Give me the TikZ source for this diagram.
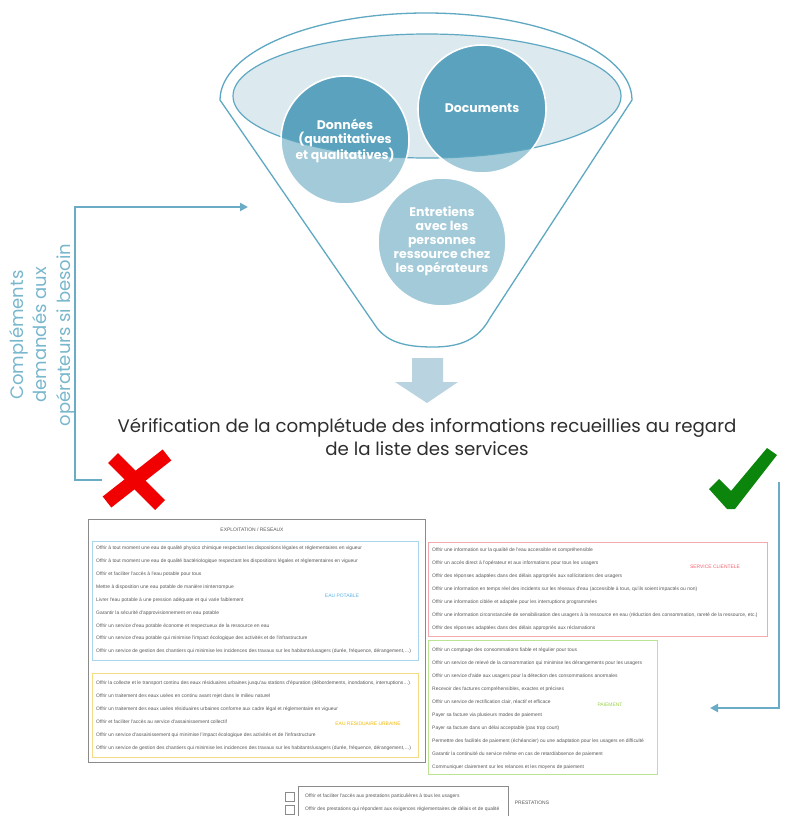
\documentclass[tikz,border=0pt]{standalone}
\usepackage{fontspec}
\setmainfont{Poppins}
\newfontfamily\listfont{Liberation Sans}
\usetikzlibrary{arrows.meta,calc}

\definecolor{funnelline}{HTML}{5FA8C2}
\definecolor{ellfill}{HTML}{DCE9EF}
\definecolor{circlight}{HTML}{A2CAD8}
\definecolor{circdark}{HTML}{5AA2BE}
\definecolor{arrowblue}{HTML}{B9D3E0}
\definecolor{loopblue}{HTML}{6AABC5}
\definecolor{sidetext}{HTML}{79B7CD}
\definecolor{crossred}{HTML}{F00000}
\definecolor{checkgreen}{HTML}{0B850B}
\definecolor{titlegray}{HTML}{2E2E2E}
\definecolor{rowgray}{HTML}{555555}
\definecolor{framegray}{HTML}{8A8A8A}
\definecolor{potable}{HTML}{A9D6EE}
\definecolor{potablelbl}{HTML}{5BB2E2}
\definecolor{residu}{HTML}{F6DA85}
\definecolor{residulbl}{HTML}{F2B800}
\definecolor{client}{HTML}{F4A9AE}
\definecolor{clientlbl}{HTML}{F0606E}
\definecolor{paie}{HTML}{BCE293}
\definecolor{paielbl}{HTML}{9ACF4C}

\newcommand\rowfont{\listfont\fontsize{4.95pt}{5.8pt}\selectfont}

\begin{document}
\begin{tikzpicture}[x=1pt,y=-1pt,
  rowtext/.style={anchor=west,inner sep=0pt,font=\rowfont,text=rowgray},
  grouplabel/.style={inner sep=0pt,font=\rowfont},
  listframe/.style={line width=0.8pt},
  loopline/.style={draw=loopblue,line width=2.6pt},
  bubble/.style={circle,draw=white,line width=1.6pt,inner sep=0pt},
  bubbletext/.style={align=center,text=white,font=\bfseries\fontsize{12.5pt}{14pt}\selectfont}]

\useasboundingbox (0,0) rectangle (789,816);

% ---------- funnel ----------
\draw[funnelline,line width=1.3pt,fill=white]
  (220,100) arc[start angle=180,end angle=360,x radius=206,y radius=87]
  -- (490,318) .. controls (478,340) and (460,347) .. (433,347)
  .. controls (405,347) and (388,342) .. (377,328) -- cycle;
\fill[ellfill] (427,96) ellipse[x radius=194,y radius=62];

% bubbles, lighter outside the inner ellipse, darker inside it
\fill[circlight] (345,140) circle[radius=64];
\fill[circlight] (482,109) circle[radius=64];
\fill[circlight] (442,242) circle[radius=64];
\begin{scope}
  \clip (427,96) ellipse[x radius=194,y radius=62];
  \fill[circdark] (345,140) circle[radius=64];
  \fill[circdark] (482,109) circle[radius=64];
\end{scope}
\draw[funnelline,line width=1.2pt] (427,96) ellipse[x radius=194,y radius=62];
\node[bubble,minimum size=128pt] (data) at (345,140) {};
\node[bubble,minimum size=128pt] (docs) at (482,109) {};
\node[bubble,minimum size=128pt] (talks) at (442,242) {};
\node[bubbletext] (datat) at (345,141) {Données\\(quantitatives\\et qualitatives)};
\node[bubbletext] (docst) at (482,108) {Documents};
\node[bubbletext] (talkst) at (442,241) {Entretiens\\avec les\\personnes\\ressource chez\\les opérateurs};

% ---------- block arrow down ----------
\fill[arrowblue] (412,358) -- (443,358) -- (443,382) -- (458,382) -- (427,403)
  -- (395,382) -- (412,382) -- cycle;

% ---------- verification text ----------
\node[align=center,text=titlegray,font=\fontsize{18.2pt}{23pt}\selectfont] (verif) at (427,437)
  {Vérification de la complétude des informations recueillies au regard\\de la liste des services};

% ---------- feedback loops ----------
\node[rotate=90,align=center,text=sidetext,font=\fontsize{18pt}{23.5pt}\selectfont] (ask) at (42,335)
  {Compléments\\demandés aux\\opérateurs si besoin};
\coordinate (askL) at (102,480);
\coordinate (feedL) at (248,207);
\draw[loopline,-{Triangle[length=8pt,width=8pt]}] (askL) -- ++(-27,0) |- (feedL);

\coordinate (okR) at (779,482);
\coordinate (toList) at (710,708);
\draw[loopline,-{Triangle[length=8pt,width=8pt]}] (okR) |- (toList);

% red cross
\draw[crossred,line width=14pt] (113,458) -- (160,505);
\draw[crossred,line width=14pt] (167,455) -- (107,502);

% green tick
\fill[checkgreen] (709,489) -- (719,479) -- (731,491) -- (767,448) -- (777,455)
  -- (735,509) -- (727,509) -- cycle;

% ---------- list of services ----------
\draw[framegray,listframe] (88,519) rectangle (425,762);
\node[grouplabel,text=rowgray] (expl) at (252,530) {EXPLOITATION / RESEAUX};

\draw[potable,listframe] (92,541) rectangle (418,660);
\node[grouplabel,text=potablelbl] (eplbl) at (342,596) {EAU POTABLE};
\foreach \t [count=\i] in {
  {Offrir à tout moment une eau de qualité physico chimique respectant les dispositions légales et réglementaires en vigueur},
  {Offrir à tout moment une eau de qualité bactériologique respectant les dispositions légales et réglementaires en vigueur},
  {Offrir et faciliter l'accès à l'eau potable pour tous},
  {Mettre à disposition une eau potable de manière ininterrompue},
  {Livrer l'eau potable à une pression adéquate et qui varie faiblement},
  {Garantir la sécurité d'approvisionnement en eau potable},
  {Offrir un service d'eau potable économe et respectueux de la ressource en eau},
  {Offrir un service d'eau potable qui minimise l'impact écologique des activités et de l'infrastructure},
  {Offrir un service de gestion des chantiers qui minimise les incidences des travaux sur les habitants/usagers (durée, fréquence, dérangement,\ldots)}}
  \node[rowtext] (ep\i) at (96,{548+12.95*(\i-1)}) {\t};

\draw[residu,listframe] (92,673) rectangle (418,757);
\node[grouplabel,text=residulbl] (erlbl) at (368,724) {EAU RESIDUAIRE URBAINE};
\foreach \t [count=\i] in {
  {Offrir la collecte et le transport continu des eaux résiduaires urbaines jusqu'au stations d'épuration (débordements, inondations, interruptions\ldots)},
  {Offrir un traitement des eaux usées en continu avant rejet dans le milieu naturel},
  {Offrir un traitement des eaux usées résiduaires urbaines conforme aux cadre légal et réglementaire en vigueur},
  {Offrir et faciliter l'accès au service d'assainissement collectif},
  {Offrir un service d'assainissement qui minimise l'impact écologique des activités et de l'infrastructure},
  {Offrir un service de gestion des chantiers qui minimise les incidences des travaux sur les habitants/usagers (durée, fréquence, dérangement,\ldots)}}
  \node[rowtext] (er\i) at (96,{683+13*(\i-1)}) {\t};

\draw[client,listframe] (428,542) rectangle (767,636);
\node[grouplabel,text=clientlbl] (sclbl) at (715,567) {SERVICE CLIENTELE};
\foreach \t [count=\i] in {
  {Offrir une information sur la qualité de l'eau accessible et compréhensible},
  {Offrir un accès direct à l'opérateur et aux informations pour tous les usagers},
  {Offrir des réponses adaptées dans des délais appropriés aux sollicitations des usagers},
  {Offrir une information en temps réel des incidents sur les réseaux d'eau (accessible à tous, qu'ils soient impactés ou non)},
  {Offrir une information ciblée et adaptée pour les interruptions programmées},
  {Offrir une information circonstanciée de sensibilisation des usagers à la ressource en eau (réduction des consommation, rareté de la ressource, etc.)},
  {Offrir des réponses adaptées dans des délais appropriés aux réclamations}}
  \node[rowtext] (sc\i) at (432,{550+13*(\i-1)}) {\t};

\draw[paie,listframe] (428,640) rectangle (657,774);
\node[grouplabel,text=paielbl] (pmlbl) at (610,705) {PAIEMENT};
\foreach \t [count=\i] in {
  {Offrir un comptage des consommations fiable et régulier pour tous},
  {Offrir un service de relevé de la consommation qui minimise les dérangements pour les usagers},
  {Offrir un service d'aide aux usagers pour la détection des consommations anormales},
  {Recevoir des factures compréhensibles, exactes et précises},
  {Offrir un service de rectification clair, réactif et efficace},
  {Payer sa facture via plusieurs modes de paiement},
  {Payer sa facture dans un délai acceptable (pas trop court)},
  {Permettre des facilités de paiement (échéancier) ou une adaptation pour les usagers en difficulté},
  {Garantir la continuité du service même en cas de retard/absence de paiement},
  {Communiquer clairement sur les relances et les moyens de paiement}}
  \node[rowtext] (pm\i) at (432,{650+13*(\i-1)}) {\t};

% prestations
\draw[framegray,listframe] (298,786) -- (298,816) (298,786) -- (508,786) -- (508,816);
\draw[framegray,line width=0.7pt] (285,792) rectangle (294,801);
\draw[framegray,line width=0.7pt] (285,805) rectangle (294,814);
\node[rowtext] (pr1) at (305,796) {Offrir et faciliter l'accès aux prestations particulières à tous les usagers};
\node[rowtext] (pr2) at (305,809) {Offrir des prestations qui répondent aux exigences réglementaires de délais et de qualité};
\node[grouplabel,text=rowgray] (prlbl) at (532,803) {PRESTATIONS};

\end{tikzpicture}
\end{document}
